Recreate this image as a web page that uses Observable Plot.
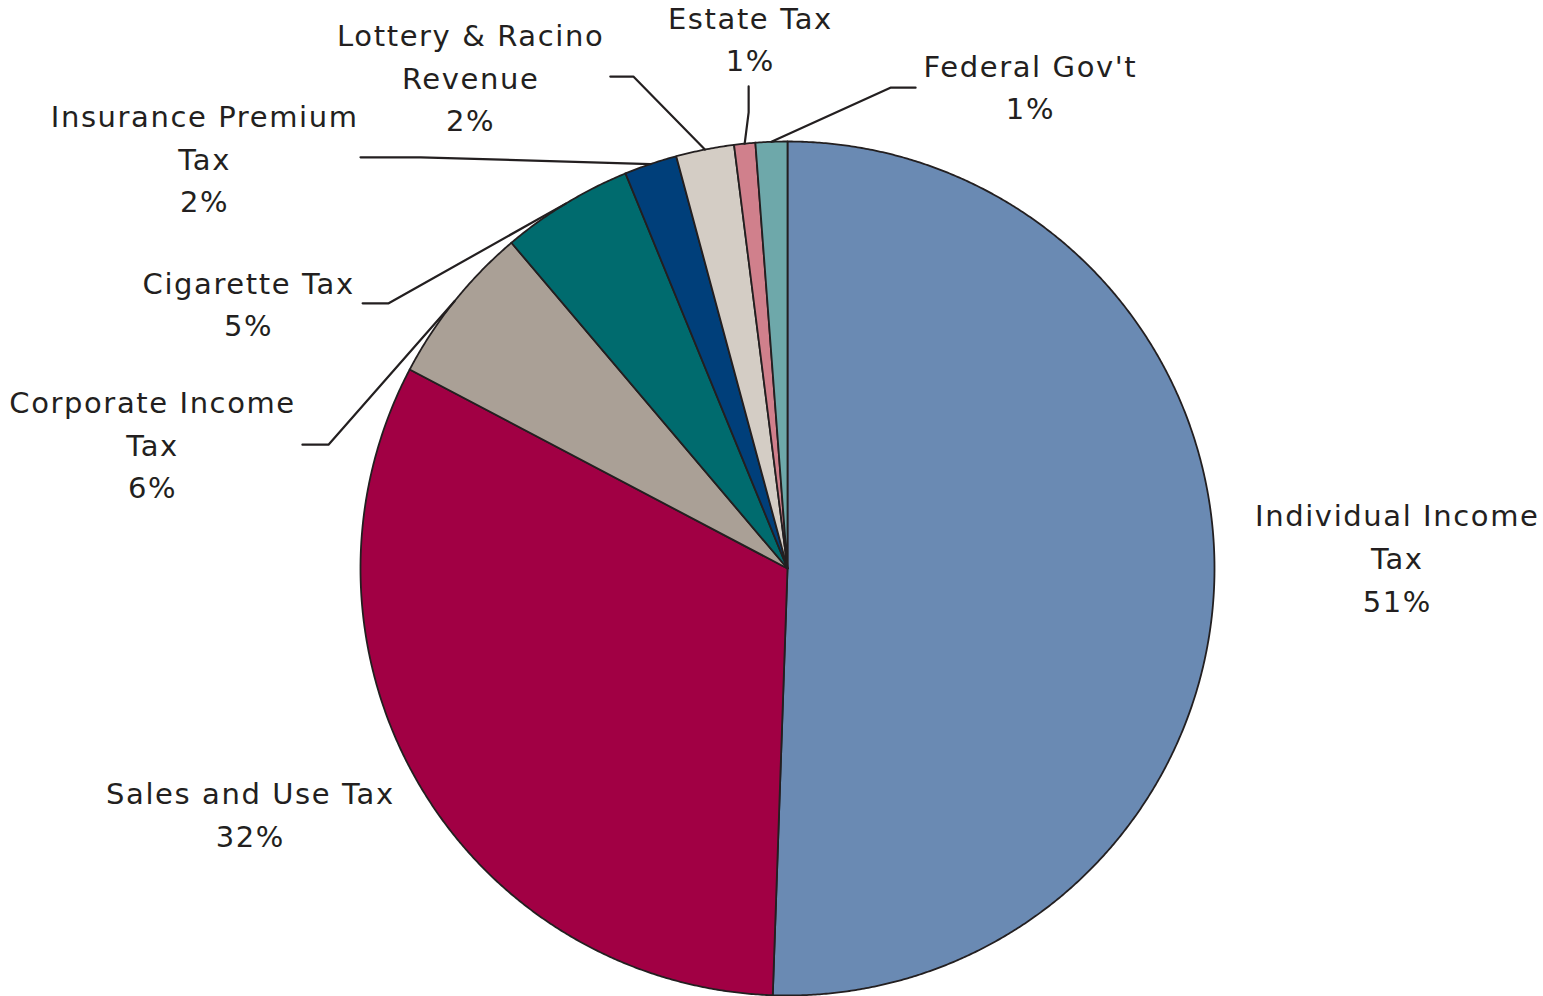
<!DOCTYPE html>
<html>
<head>
<meta charset="utf-8">
<script src="https://cdn.jsdelivr.net/npm/d3@7"></script>
<script src="https://cdn.jsdelivr.net/npm/@observablehq/plot@0.6"></script>
<style>
  html, body { margin: 0; padding: 0; background: #ffffff; }
  #chart { width: 1543px; height: 996px; }
</style>
</head>
<body>
<div id="chart"></div>
<script>
// ---- Data ----
const categories = ["Individual Income Tax", "Sales and Use Tax", "Corporate Income Tax", "Cigarette Tax",
  "Insurance Premium Tax", "Lottery & Racino Revenue", "Estate Tax", "Federal Gov't"];
const labelText = ["Individual Income\nTax", "Sales and Use Tax", "Corporate Income\nTax", "Cigarette Tax",
  "Insurance Premium\nTax", "Lottery & Racino\nRevenue", "Estate Tax", "Federal Gov't"];
const shares = [50.6, 32.2, 6.1, 5.0, 2.0, 2.2, 0.8, 1.2];
const colors = ["#6a8ab3", "#a10044", "#aaa096", "#006b6e", "#003f7a", "#d4cdc5", "#d0808c", "#6ea8aa"];

// ---- Layout (label placement in pie-radius units) ----
const labelPos = [[1.428, 0.031], [-1.258, -0.570], [-1.487, 0.296], [-1.262, 0.626],
  [-1.365, 0.966], [-0.742, 1.156], [-0.087, 1.246], [0.569, 1.134]];
// leader lines: [elbow, end] or null
const leaders = [null, null,
  [[-1.075, 0.290], [-1.136, 0.290]],
  [[-0.934, 0.621], [-0.995, 0.621]],
  [[-0.859, 0.963], [-1.000, 0.963]],
  [[-0.361, 1.152], [-0.415, 1.152]],
  [[-0.091, 1.068], [-0.091, 1.129]],
  [[0.241, 1.126], [0.300, 1.126]]];

const W = 1543, H = 996, CX = 787, CY = 568, R = 427;
const total = d3.sum(shares);
const arcs = d3.pie().sort(null).value(d => d)(shares);

// slice polygons
const slicePts = [];
arcs.forEach((a, i) => {
  const cat = categories[i];
  slicePts.push({cat, x: 0, y: 0});
  const n = Math.max(4, Math.ceil((a.endAngle - a.startAngle) / 0.005));
  for (let k = 0; k <= n; k++) {
    const t = a.startAngle + (a.endAngle - a.startAngle) * k / n;
    slicePts.push({cat, x: Math.sin(t), y: Math.cos(t)});
  }
  slicePts.push({cat, x: 0, y: 0});
});

// leader line points
const leaderPts = [];
arcs.forEach((a, i) => {
  if (!leaders[i]) return;
  const m = (a.startAngle + a.endAngle) / 2;
  leaderPts.push({cat: categories[i], x: Math.sin(m), y: Math.cos(m)});
  leaders[i].forEach(p => leaderPts.push({cat: categories[i], x: p[0], y: p[1]}));
});

const labels = categories.map((c, i) => ({
  cat: c,
  text: labelText[i] + "\n" + Math.round(shares[i] / total * 100) + "%",
  x: labelPos[i][0], y: labelPos[i][1]
}));

const chart = Plot.plot({
  width: W, height: H,
  margin: 0,
  style: {background: "#ffffff", fontFamily: "'DejaVu Sans', Verdana, sans-serif", letterSpacing: "1.6px"},
  x: {domain: [-CX / R, (W - CX) / R], range: [0, W], axis: null},
  y: {domain: [-(H - CY) / R, CY / R], range: [H, 0], axis: null},
  color: {domain: categories, range: colors},
  marks: [
    Plot.line(slicePts, {x: "x", y: "y", z: "cat", fill: "cat", stroke: "#231f20", strokeWidth: 1.8, strokeLinejoin: "round", curve: "linear"}),
    Plot.line(leaderPts, {x: "x", y: "y", z: "cat", stroke: "#231f20", strokeWidth: 2.2}),
    Plot.text(labels, {x: "x", y: "y", text: "text", fill: "#231f20", fontSize: 29, lineHeight: 1.47, textAnchor: "middle", lineAnchor: "middle"})
  ]
});
document.getElementById("chart").appendChild(chart);
</script>
</body>
</html>
